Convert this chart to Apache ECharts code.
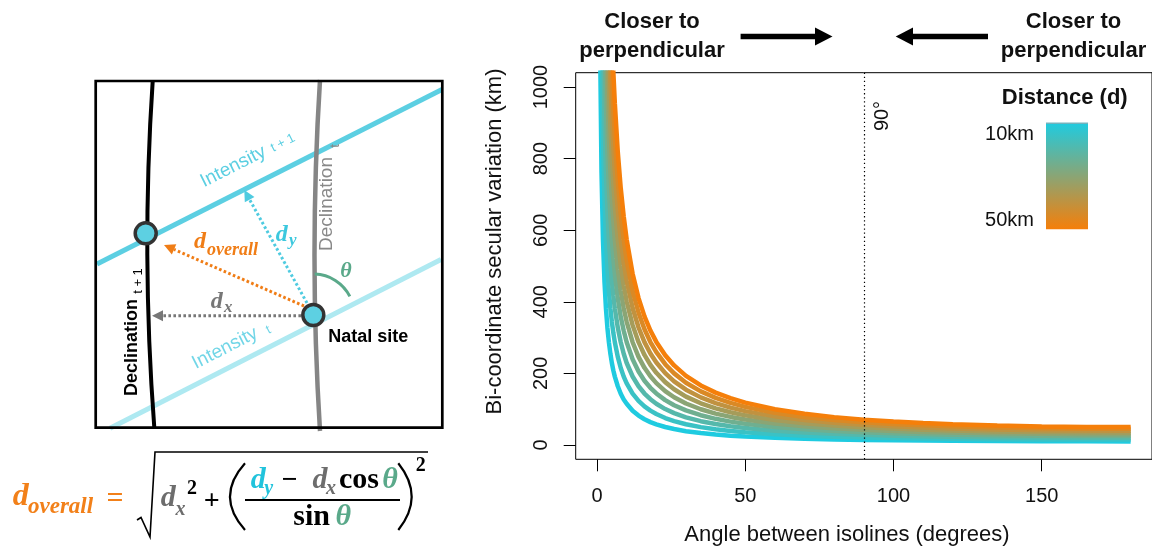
<!DOCTYPE html>
<html><head><meta charset="utf-8">
<script src="https://cdn.jsdelivr.net/npm/echarts@6/dist/echarts.min.js"></script>
<style>html,body{margin:0;padding:0;background:#fff}#c{width:1152px;height:549px}</style>
</head><body><div id="c"></div>
<script>
// ---- data ----
const angles = [1,1.5,2,2.5,3,3.5,4,4.5,5,5.5,6,7,8,9,10,12,14,16,18,20,23,26,30,35,40,45,50,60,70,80,90,100,110,120,135,150,165,180];
const distanceNames = ['10km','15km','20km','25km','30km','35km','40km','45km','50km'];
const d10 = [1146,764,573,458,382,327,287,255,229,208,191,164,143,127,115,95.7,82.1,71.9,63.9,57.6,50.2,44.5,38.6,33.3,29.2,26.1,23.7,20.0,17.4,15.6,14.1,13.1,12.2,11.5,10.8,10.4,10.1,10.0];
const d15 = [1719,1146,860,688,573,491,430,382,344,313,287,246,215,191,172,143.5,123.1,107.8,95.9,86.4,75.2,66.7,58.0,49.9,43.9,39.2,35.5,30.0,26.1,23.3,21.2,19.6,18.3,17.3,16.2,15.5,15.1,15.0];
const d20 = [2292,1528,1146,917,764,655,573,509,459,417,382,328,287,255,229,191.3,164.1,143.7,127.8,115.2,100.3,88.9,77.3,66.5,58.5,52.3,47.3,40.0,34.9,31.1,28.3,26.1,24.4,23.1,21.6,20.7,20.2,20.0];
const d25 = [2865,1910,1433,1146,955,819,716,637,573,521,478,410,358,319,287,239.2,205.2,179.6,159.8,144.0,125.4,111.1,96.6,83.2,73.1,65.3,59.2,50.0,43.6,38.9,35.4,32.6,30.5,28.9,27.1,25.9,25.2,25.0];
const d30 = [3438,2292,1719,1375,1146,982,860,764,688,625,573,491,430,382,344,287.0,246.2,215.6,191.8,172.8,150.5,133.4,115.9,99.8,87.7,78.4,71.0,60.0,52.3,46.7,42.4,39.2,36.6,34.7,32.5,31.1,30.3,30.0];
const d35 = [4011,2674,2006,1604,1337,1146,1003,891,803,729,669,573,502,446,401,334.8,287.2,251.5,223.7,201.6,175.6,155.6,135.2,116.4,102.3,91.5,82.8,70.0,61.0,54.5,49.5,45.7,42.7,40.4,37.9,36.2,35.3,35.0];
const d40 = [4584,3056,2292,1834,1528,1310,1146,1019,917,834,764,655,574,510,459,382.7,328.2,287.4,255.7,230.4,200.6,177.8,154.6,133.0,117.0,104.5,94.6,80.0,69.7,62.2,56.6,52.2,48.8,46.2,43.3,41.4,40.4,40.0];
const d45 = [5157,3438,2579,2063,1719,1474,1289,1146,1032,938,860,737,645,574,516,430.5,369.3,323.3,287.6,259.2,225.7,200.0,173.9,149.7,131.6,117.6,106.5,90.0,78.4,70.0,63.6,58.7,54.9,52.0,48.7,46.6,45.4,45.0];
const d50 = [5730,3820,2865,2292,1910,1638,1433,1274,1146,1042,955,819,717,638,574,478.4,410.3,359.3,319.6,288.0,250.8,222.3,193.2,166.3,146.2,130.7,118.3,100.0,87.2,77.8,70.7,65.3,61.1,57.8,54.1,51.8,50.5,50.0];
const xTicks = [0,50,100,150];
const yTicks = [0,200,400,600,800,1000];
const refAngle = 90;

// ---- styles ----
const lineColors = ['#1FCBE0','#3AC2C5','#55B8AB','#6FAF90','#8AA575','#A59C5A','#C09240','#DA8925','#F57F0A'];
const SANS = '"Liberation Sans", Arial, Helvetica, sans-serif';
const SERIF = '"Liberation Serif", "Times New Roman", serif';
const allSeries = [d10,d15,d20,d25,d30,d35,d40,d45,d50];

const chart = echarts.init(document.getElementById('c'), null, {renderer:'canvas'});

function T(x, y, text, font, fill, opts) {
  opts = opts || {};
  return {type:'text', x:x, y:y, rotation:opts.rot||0, z:opts.z||10,
    style:{text:text, font:font, fill:fill, align:opts.align||'center', verticalAlign:opts.va||'middle'}};
}
function arrow(x1,y1,x2,y2,color){
  const dx=x2-x1, dy=y2-y1, L=Math.hypot(dx,dy), ux=dx/L, uy=dy/L, hl=11, hw=5.5;
  const bx=x2-ux*hl, by=y2-uy*hl;
  return [
    {type:'line', z:5, shape:{x1:x1,y1:y1,x2:bx,y2:by}, style:{stroke:color, lineWidth:3, lineDash:[2.6,2.4]}},
    {type:'polygon', z:5, shape:{points:[[x2,y2],[bx-uy*hw,by+ux*hw],[bx+uy*hw,by-ux*hw]]}, style:{fill:color}}
  ];
}
const deg = Math.PI/180;
const graphics = [];
// left diagram lines
graphics.push({type:'line', z:2, shape:{x1:97,y1:264,x2:442,y2:89.5}, style:{stroke:'#5ccfe2', lineWidth:5}});
graphics.push({type:'line', z:2, shape:{x1:110,y1:428.3,x2:441,y2:259.5}, style:{stroke:'#aee9f1', lineWidth:5}});
graphics.push({type:'bezierCurve', z:3, shape:{x1:152.7,y1:81,x2:154.3,y2:427.7,cpx1:141.1,cpy1:253.6}, style:{stroke:'#000', lineWidth:4, fill:null}});
graphics.push({type:'bezierCurve', z:3, shape:{x1:320,y1:80,x2:320,y2:431,cpx1:309,cpy1:255}, style:{stroke:'#858585', lineWidth:4.5, fill:null}});
graphics.push({type:'rect', z:4, shape:{x:95.7,y:81,width:346.6,height:346.7}, style:{fill:null, stroke:'#000', lineWidth:2.7}});
// arrows
graphics.push(...arrow(307,303,244.3,190,'#4fcbe0'));
graphics.push(...arrow(304,306,164,245,'#f07d16'));
graphics.push(...arrow(301,315.7,152,315.7,'#777777'));
// theta arc
graphics.push({type:'arc', z:5, shape:{cx:313.3, cy:315, r:41, startAngle:-88*deg, endAngle:-27*deg, clockwise:true}, style:{stroke:'#5aa98a', lineWidth:3, fill:null}});
// dots
graphics.push({type:'circle', z:6, shape:{cx:145.7,cy:233.3,r:10.5}, style:{fill:'#5dd0e2', stroke:'#333', lineWidth:3.5}});
graphics.push({type:'circle', z:6, shape:{cx:313.3,cy:315,r:10.5}, style:{fill:'#5dd0e2', stroke:'#333', lineWidth:3.5}});
// diagram labels
graphics.push(T(233.3,166.7,'Intensity','19px '+SANS,'#5ccfe2',{rot:26.8*deg}));
graphics.push(T(283,143,'t + 1','13px '+SANS,'#5ccfe2',{rot:26.8*deg}));
graphics.push(T(225,348.3,'Intensity','19px '+SANS,'#72d6e7',{rot:27*deg}));
graphics.push(T(268.5,330,'t','13px '+SANS,'#72d6e7',{rot:27*deg}));
graphics.push(T(326.7,204,'Declination','19px '+SANS,'#888888',{rot:90*deg}));
graphics.push(T(335,146,'t','13px '+SANS,'#888888',{rot:90*deg}));
graphics.push(T(131.7,347.5,'Declination','bold 18px '+SANS,'#000',{rot:90*deg}));
graphics.push(T(138.3,281,'t + 1','13px '+SANS,'#000',{rot:90*deg}));
graphics.push(T(368.3,336.7,'Natal site','bold 18px '+SANS,'#000'));
graphics.push(T(346,271,'θ','italic bold 22px '+SERIF,'#5aa98a'));
graphics.push(T(200,242,'d','italic bold 24px '+SERIF,'#f07d16'));
graphics.push(T(207,250,'overall','italic bold 18px '+SERIF,'#f07d16',{align:'left'}));
graphics.push(T(281.7,235,'d','italic bold 24px '+SERIF,'#3cc8de'));
graphics.push(T(292.7,241,'y','italic bold 17px '+SERIF,'#3cc8de'));
graphics.push(T(216.7,301.7,'d','italic bold 24px '+SERIF,'#777777'));
graphics.push(T(228.3,307.5,'x','italic bold 17px '+SERIF,'#777777'));
// formula
graphics.push(T(20.7,496.7,'d','italic bold 32px '+SERIF,'#f28019'));
graphics.push(T(28,507,'overall','italic bold 23px '+SERIF,'#f28019',{align:'left'}));
graphics.push(T(115,499,'=','bold 30px '+SERIF,'#f28019'));
graphics.push({type:'polyline', z:10, shape:{points:[[137,520],[141,517.5],[150,537],[155,452],[428,452]]}, style:{stroke:'#000', lineWidth:1.6, fill:null}});
graphics.push(T(168.3,498.3,'d','italic bold 30px '+SERIF,'#6d6d6d'));
graphics.push(T(180.5,510,'x','italic bold 20px '+SERIF,'#6d6d6d'));
graphics.push(T(192,489,'2','bold 20px '+SERIF,'#000'));
graphics.push(T(211.7,501.7,'+','bold 28px '+SERIF,'#000'));
graphics.push({type:'bezierCurve', z:10, shape:{x1:245,y1:463.3,x2:245,y2:530,cpx1:215,cpy1:496.7}, style:{stroke:'#000', lineWidth:2.2, fill:null}});
graphics.push({type:'bezierCurve', z:10, shape:{x1:398.3,y1:463.3,x2:398.3,y2:530,cpx1:425,cpy1:496.7}, style:{stroke:'#000', lineWidth:2.2, fill:null}});
graphics.push(T(420.7,466,'2','bold 20px '+SERIF,'#000'));
graphics.push(T(258.3,480,'d','italic bold 30px '+SERIF,'#21c3dc'));
graphics.push(T(268.8,488.5,'y','italic bold 20px '+SERIF,'#21c3dc'));
graphics.push(T(289.7,481,'−','bold 28px '+SERIF,'#000'));
graphics.push(T(320,480,'d','italic bold 30px '+SERIF,'#6d6d6d'));
graphics.push(T(331,488.5,'x','italic bold 20px '+SERIF,'#6d6d6d'));
graphics.push(T(359,480,'cos','bold 30px '+SERIF,'#000'));
graphics.push(T(390,480,'θ','italic bold 30px '+SERIF,'#5aa98a'));
graphics.push({type:'line', z:10, shape:{x1:245,y1:500,x2:400,y2:500}, style:{stroke:'#000', lineWidth:2}});
graphics.push(T(311.7,517.3,'sin','bold 30px '+SERIF,'#000'));
graphics.push(T(343.3,517.3,'θ','italic bold 30px '+SERIF,'#5aa98a'));
// top annotations
graphics.push(T(652,22,'Closer to','bold 22px '+SANS,'#111'));
graphics.push(T(652,51,'perpendicular','bold 22px '+SANS,'#111'));
graphics.push(T(1073.5,22,'Closer to','bold 22px '+SANS,'#111'));
graphics.push(T(1073.5,51,'perpendicular','bold 22px '+SANS,'#111'));
graphics.push({type:'line', z:10, shape:{x1:740.6,y1:36.5,x2:817,y2:36.5}, style:{stroke:'#000', lineWidth:5.5}});
graphics.push({type:'polygon', z:10, shape:{points:[[815,27.5],[832.5,36.5],[815,45.5]]}, style:{fill:'#000'}});
graphics.push({type:'line', z:10, shape:{x1:911,y1:36.5,x2:988,y2:36.5}, style:{stroke:'#000', lineWidth:5.5}});
graphics.push({type:'polygon', z:10, shape:{points:[[913,27.5],[895.7,36.5],[913,45.5]]}, style:{fill:'#000'}});
// 90 degree label
graphics.push(T(882,116,'90°','20px '+SANS,'#111',{rot:90*deg}));
// legend
graphics.push(T(1064.7,98.3,'Distance (d)','bold 22px '+SANS,'#111'));
graphics.push({type:'rect', z:10, shape:{x:1046,y:122.7,width:42,height:106.6},
  style:{fill:new echarts.graphic.LinearGradient(0,0,0,1,[{offset:0,color:lineColors[0]},{offset:0.5,color:lineColors[4]},{offset:1,color:lineColors[8]}])}});
graphics.push({type:'line', z:11, shape:{x1:1046,y1:123.2,x2:1088,y2:123.2}, style:{stroke:'#9aa7ad', lineWidth:1}});
graphics.push(T(1034,134.3,distanceNames[0],'20px '+SANS,'#111',{align:'right'}));
graphics.push(T(1034,220,distanceNames[8],'20px '+SANS,'#111',{align:'right'}));
// axis titles
graphics.push(T(495,241.5,'Bi-coordinate secular variation (km)','22px '+SANS,'#111',{rot:90*deg}));
graphics.push(T(847,535,'Angle between isolines (degrees)','22px '+SANS,'#111'));

const series = allSeries.map((vals, i) => ({
  name: distanceNames[i], type:'line', showSymbol:false, symbol:'none', clip:true,
  data: angles.map((a, j) => [a, vals[j]]),
  lineStyle:{width:4.5, color:lineColors[i]}, itemStyle:{color:lineColors[i]}, z:2
}));
series[series.length-1].markLine = {silent:true, symbol:'none', label:{show:false}, z:5,
  lineStyle:{color:'#000', width:1.2, type:[1.3,2.8]}, data:[{xAxis:refAngle}]};

chart.setOption({
  animation:false,
  backgroundColor:'#fff',
  grid:{left:575.7, top:72.7, width:577, height:386.6, show:true, borderColor:'#000', borderWidth:1, backgroundColor:'transparent'},
  xAxis:{type:'value', min:-7.2, max:187.2, axisLine:{show:false, onZero:false}, splitLine:{show:false},
    axisTick:{show:true, inside:false, length:12, lineStyle:{color:'#000', width:1}, customValues:xTicks},
    axisLabel:{customValues:xTicks, fontSize:20, color:'#111', margin:27.5, fontFamily:SANS, formatter:v=>String(v)}},
  yAxis:{type:'value', min:-40, max:1040, axisLine:{show:false, onZero:false}, splitLine:{show:false},
    axisTick:{show:true, inside:false, length:12, lineStyle:{color:'#000', width:1}, customValues:yTicks},
    axisLabel:{customValues:yTicks, fontSize:20, color:'#111', margin:24.5, rotate:90, fontFamily:SANS, formatter:v=>String(v)}},
  series: series,
  graphic: graphics
});
</script></body></html>
